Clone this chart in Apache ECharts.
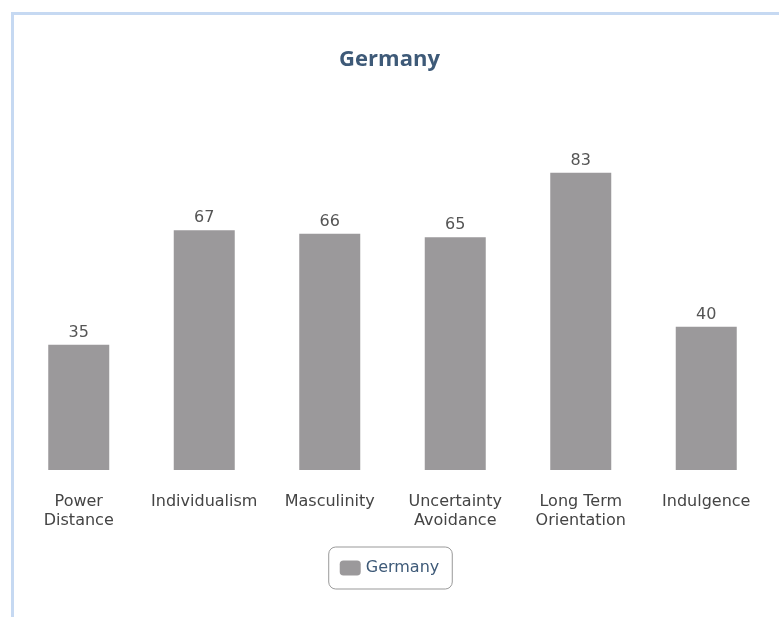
<!DOCTYPE html>
<html>
<head>
<meta charset="utf-8">
<script src="https://cdn.jsdelivr.net/npm/echarts@6/dist/echarts.min.js"></script>
<style>
    body { margin: 0; background: #fff; }
    #frame {
        position: absolute; left: 11px; top: 12px; width: 768px; height: 605px;
        border-left: 3px solid #c6d9f2; border-top: 3px solid #c6d9f2;
        box-sizing: border-box;
    }
    #chart { position: absolute; left: 0; top: 0; width: 779px; height: 617px; }
</style>
</head>
<body>
<div id="frame"></div>
<div id="chart"></div>
<script>
// 数据
var countryName = 'Germany';
var dimensions = ['Power\nDistance', 'Individualism', 'Masculinity', 'Uncertainty\nAvoidance', 'Long Term\nOrientation', 'Indulgence'];
var scores = [35, 67, 66, 65, 83, 40];

var myChart = echarts.init(document.getElementById('chart'));
myChart.setOption({
    animation: false,
    title: {
        text: countryName,
        left: 'center',
        top: 44,
        textStyle: {
            fontFamily: 'Open Sans',
            fontSize: 22,
            fontWeight: 'bold',
            color: '#3e5a78'
        }
    },
    legend: {
        data: [countryName],
        left: 'center',
        top: 547,
        padding: [13, 13, 13, 11],
        borderColor: '#999',
        borderWidth: 1,
        borderRadius: 7,
        itemWidth: 21,
        itemHeight: 15,
        itemGap: 8,
        icon: 'roundRect',
        textStyle: {
            fontFamily: 'DejaVu Sans',
            fontSize: 16,
            color: '#3e5a78'
        }
    },
    grid: {
        left: 16,
        right: 10,
        top: 112,
        bottom: 147
    },
    xAxis: {
        type: 'category',
        data: dimensions,
        axisLine: { show: false },
        axisTick: { show: false },
        axisLabel: {
            interval: 0,
            margin: 22,
            fontFamily: 'DejaVu Sans',
            fontSize: 16,
            lineHeight: 19,
            color: '#444'
        }
    },
    yAxis: {
        type: 'value',
        min: 0,
        max: 100,
        show: false
    },
    series: [{
        name: countryName,
        type: 'bar',
        data: scores,
        barWidth: '48.6%',
        itemStyle: { color: '#9b999b' },
        label: {
            show: true,
            position: 'top',
            distance: 4,
            fontFamily: 'DejaVu Sans',
            fontSize: 16,
            color: '#555'
        }
    }]
});
</script>
</body>
</html>
